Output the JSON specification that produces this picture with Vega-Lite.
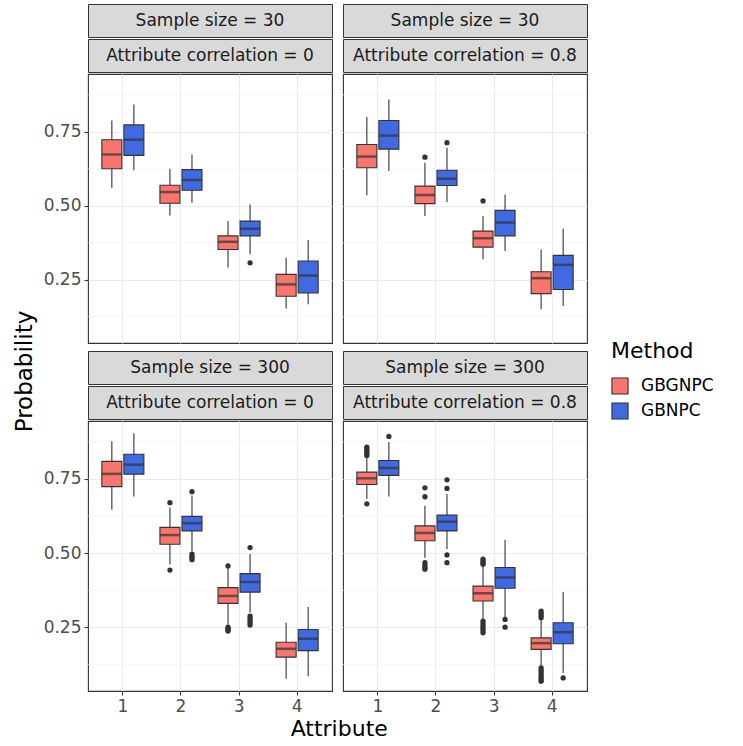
{
"$schema": "https://vega.github.io/schema/vega-lite/v6.json",
"background": "white",
"padding": {"left": 13, "top": 3, "right": 5, "bottom": 3},
"title": {"text": "Probability", "orient": "left", "anchor": "middle", "fontSize": 23, "font": "DejaVu Sans", "fontWeight": "normal", "color": "black", "offset": 6},
"datasets": {
"minor": [{"v": 0.125}, {"v": 0.375}, {"v": 0.625}, {"v": 0.875}],
"boxes": [
{"s":"30","c":"0","a":"1","m":"GBGNPC","lo":0.561,"q1":0.625,"md":0.673,"q3":0.723,"hi":0.788},
{"s":"30","c":"0","a":"1","m":"GBNPC","lo":0.620,"q1":0.670,"md":0.723,"q3":0.773,"hi":0.842},
{"s":"30","c":"0","a":"2","m":"GBGNPC","lo":0.467,"q1":0.508,"md":0.546,"q3":0.569,"hi":0.625},
{"s":"30","c":"0","a":"2","m":"GBNPC","lo":0.510,"q1":0.552,"md":0.587,"q3":0.622,"hi":0.673},
{"s":"30","c":"0","a":"3","m":"GBGNPC","lo":0.291,"q1":0.352,"md":0.378,"q3":0.398,"hi":0.448},
{"s":"30","c":"0","a":"3","m":"GBNPC","lo":0.336,"q1":0.398,"md":0.422,"q3":0.448,"hi":0.504},
{"s":"30","c":"0","a":"4","m":"GBGNPC","lo":0.153,"q1":0.194,"md":0.234,"q3":0.268,"hi":0.324},
{"s":"30","c":"0","a":"4","m":"GBNPC","lo":0.167,"q1":0.205,"md":0.264,"q3":0.313,"hi":0.384},
{"s":"30","c":"0.8","a":"1","m":"GBGNPC","lo":0.535,"q1":0.628,"md":0.666,"q3":0.707,"hi":0.800},
{"s":"30","c":"0.8","a":"1","m":"GBNPC","lo":0.617,"q1":0.691,"md":0.737,"q3":0.788,"hi":0.859},
{"s":"30","c":"0.8","a":"2","m":"GBGNPC","lo":0.465,"q1":0.507,"md":0.536,"q3":0.566,"hi":0.645},
{"s":"30","c":"0.8","a":"2","m":"GBNPC","lo":0.512,"q1":0.568,"md":0.591,"q3":0.620,"hi":0.696},
{"s":"30","c":"0.8","a":"3","m":"GBGNPC","lo":0.319,"q1":0.360,"md":0.390,"q3":0.414,"hi":0.465},
{"s":"30","c":"0.8","a":"3","m":"GBNPC","lo":0.347,"q1":0.398,"md":0.443,"q3":0.484,"hi":0.538},
{"s":"30","c":"0.8","a":"4","m":"GBGNPC","lo":0.150,"q1":0.203,"md":0.255,"q3":0.277,"hi":0.352},
{"s":"30","c":"0.8","a":"4","m":"GBNPC","lo":0.161,"q1":0.217,"md":0.300,"q3":0.332,"hi":0.422},
{"s":"300","c":"0","a":"1","m":"GBGNPC","lo":0.646,"q1":0.724,"md":0.767,"q3":0.809,"hi":0.877},
{"s":"300","c":"0","a":"1","m":"GBNPC","lo":0.691,"q1":0.766,"md":0.798,"q3":0.833,"hi":0.904},
{"s":"300","c":"0","a":"2","m":"GBGNPC","lo":0.463,"q1":0.530,"md":0.561,"q3":0.587,"hi":0.654},
{"s":"300","c":"0","a":"2","m":"GBNPC","lo":0.506,"q1":0.575,"md":0.601,"q3":0.624,"hi":0.694},
{"s":"300","c":"0","a":"3","m":"GBGNPC","lo":0.260,"q1":0.331,"md":0.356,"q3":0.384,"hi":0.452},
{"s":"300","c":"0","a":"3","m":"GBNPC","lo":0.300,"q1":0.369,"md":0.403,"q3":0.431,"hi":0.497},
{"s":"300","c":"0","a":"4","m":"GBGNPC","lo":0.077,"q1":0.150,"md":0.178,"q3":0.200,"hi":0.266},
{"s":"300","c":"0","a":"4","m":"GBNPC","lo":0.086,"q1":0.172,"md":0.212,"q3":0.243,"hi":0.319},
{"s":"300","c":"0.8","a":"1","m":"GBGNPC","lo":0.682,"q1":0.731,"md":0.752,"q3":0.773,"hi":0.823},
{"s":"300","c":"0.8","a":"1","m":"GBNPC","lo":0.691,"q1":0.762,"md":0.787,"q3":0.812,"hi":0.874},
{"s":"300","c":"0.8","a":"2","m":"GBGNPC","lo":0.485,"q1":0.542,"md":0.568,"q3":0.592,"hi":0.660},
{"s":"300","c":"0.8","a":"2","m":"GBNPC","lo":0.514,"q1":0.575,"md":0.606,"q3":0.628,"hi":0.699},
{"s":"300","c":"0.8","a":"3","m":"GBGNPC","lo":0.277,"q1":0.339,"md":0.365,"q3":0.389,"hi":0.457},
{"s":"300","c":"0.8","a":"3","m":"GBNPC","lo":0.283,"q1":0.382,"md":0.418,"q3":0.452,"hi":0.545},
{"s":"300","c":"0.8","a":"4","m":"GBGNPC","lo":0.119,"q1":0.176,"md":0.197,"q3":0.215,"hi":0.277},
{"s":"300","c":"0.8","a":"4","m":"GBNPC","lo":0.097,"q1":0.195,"md":0.234,"q3":0.266,"hi":0.369}
],
"outliers": [
{"s":"30","c":"0","a":"3","m":"GBNPC","v":0.307},
{"s":"30","c":"0.8","a":"2","m":"GBGNPC","v":0.664},
{"s":"30","c":"0.8","a":"2","m":"GBNPC","v":0.713},
{"s":"30","c":"0.8","a":"3","m":"GBGNPC","v":0.516},
{"s":"300","c":"0","a":"2","m":"GBGNPC","v":0.670},
{"s":"300","c":"0","a":"2","m":"GBGNPC","v":0.443},
{"s":"300","c":"0","a":"2","m":"GBNPC","v":0.707},
{"s":"300","c":"0","a":"2","m":"GBNPC","v":0.497},
{"s":"300","c":"0","a":"2","m":"GBNPC","v":0.490},
{"s":"300","c":"0","a":"2","m":"GBNPC","v":0.484},
{"s":"300","c":"0","a":"2","m":"GBNPC","v":0.478},
{"s":"300","c":"0","a":"3","m":"GBGNPC","v":0.457},
{"s":"300","c":"0","a":"3","m":"GBGNPC","v":0.251},
{"s":"300","c":"0","a":"3","m":"GBGNPC","v":0.246},
{"s":"300","c":"0","a":"3","m":"GBGNPC","v":0.242},
{"s":"300","c":"0","a":"3","m":"GBGNPC","v":0.238},
{"s":"300","c":"0","a":"3","m":"GBNPC","v":0.519},
{"s":"300","c":"0","a":"3","m":"GBNPC","v":0.288},
{"s":"300","c":"0","a":"3","m":"GBNPC","v":0.280},
{"s":"300","c":"0","a":"3","m":"GBNPC","v":0.272},
{"s":"300","c":"0","a":"3","m":"GBNPC","v":0.265},
{"s":"300","c":"0","a":"3","m":"GBNPC","v":0.258},
{"s":"300","c":"0.8","a":"1","m":"GBGNPC","v":0.857},
{"s":"300","c":"0.8","a":"1","m":"GBGNPC","v":0.850},
{"s":"300","c":"0.8","a":"1","m":"GBGNPC","v":0.843},
{"s":"300","c":"0.8","a":"1","m":"GBGNPC","v":0.836},
{"s":"300","c":"0.8","a":"1","m":"GBGNPC","v":0.829},
{"s":"300","c":"0.8","a":"1","m":"GBGNPC","v":0.666},
{"s":"300","c":"0.8","a":"1","m":"GBNPC","v":0.893},
{"s":"300","c":"0.8","a":"2","m":"GBGNPC","v":0.720},
{"s":"300","c":"0.8","a":"2","m":"GBGNPC","v":0.690},
{"s":"300","c":"0.8","a":"2","m":"GBGNPC","v":0.468},
{"s":"300","c":"0.8","a":"2","m":"GBGNPC","v":0.460},
{"s":"300","c":"0.8","a":"2","m":"GBGNPC","v":0.453},
{"s":"300","c":"0.8","a":"2","m":"GBGNPC","v":0.446},
{"s":"300","c":"0.8","a":"2","m":"GBNPC","v":0.747},
{"s":"300","c":"0.8","a":"2","m":"GBNPC","v":0.718},
{"s":"300","c":"0.8","a":"2","m":"GBNPC","v":0.494},
{"s":"300","c":"0.8","a":"2","m":"GBNPC","v":0.468},
{"s":"300","c":"0.8","a":"3","m":"GBGNPC","v":0.480},
{"s":"300","c":"0.8","a":"3","m":"GBGNPC","v":0.474},
{"s":"300","c":"0.8","a":"3","m":"GBGNPC","v":0.468},
{"s":"300","c":"0.8","a":"3","m":"GBGNPC","v":0.463},
{"s":"300","c":"0.8","a":"3","m":"GBGNPC","v":0.271},
{"s":"300","c":"0.8","a":"3","m":"GBGNPC","v":0.262},
{"s":"300","c":"0.8","a":"3","m":"GBGNPC","v":0.254},
{"s":"300","c":"0.8","a":"3","m":"GBGNPC","v":0.246},
{"s":"300","c":"0.8","a":"3","m":"GBGNPC","v":0.239},
{"s":"300","c":"0.8","a":"3","m":"GBGNPC","v":0.232},
{"s":"300","c":"0.8","a":"3","m":"GBNPC","v":0.277},
{"s":"300","c":"0.8","a":"3","m":"GBNPC","v":0.251},
{"s":"300","c":"0.8","a":"4","m":"GBGNPC","v":0.305},
{"s":"300","c":"0.8","a":"4","m":"GBGNPC","v":0.298},
{"s":"300","c":"0.8","a":"4","m":"GBGNPC","v":0.290},
{"s":"300","c":"0.8","a":"4","m":"GBGNPC","v":0.283},
{"s":"300","c":"0.8","a":"4","m":"GBGNPC","v":0.114},
{"s":"300","c":"0.8","a":"4","m":"GBGNPC","v":0.106},
{"s":"300","c":"0.8","a":"4","m":"GBGNPC","v":0.098},
{"s":"300","c":"0.8","a":"4","m":"GBGNPC","v":0.090},
{"s":"300","c":"0.8","a":"4","m":"GBGNPC","v":0.082},
{"s":"300","c":"0.8","a":"4","m":"GBGNPC","v":0.075},
{"s":"300","c":"0.8","a":"4","m":"GBGNPC","v":0.069},
{"s":"300","c":"0.8","a":"4","m":"GBNPC","v":0.080}
]
},
"hconcat": [
{
"title": {"text": "Attribute", "orient": "bottom", "anchor": "middle", "fontSize": 22, "font": "DejaVu Sans", "fontWeight": "normal", "color": "black", "offset": 4, "dx": 24},
"columns": 2,
"spacing": {"row": 6, "column": 9},
"concat": [
{"spacing": 0, "vconcat": [
 {"width": 244, "height": 33, "data": {"values": [{"t": "Sample size = 30"}]}, "mark": {"type": "text", "fontSize": 17, "color": "#1A1A1A"}, "encoding": {"text": {"field": "t"}}, "view": {"fill": "#D9D9D9", "stroke": "#333333"}},
 {"width": 244, "height": 33, "data": {"values": [{"t": "Attribute correlation = 0"}]}, "mark": {"type": "text", "fontSize": 17, "color": "#1A1A1A"}, "encoding": {"text": {"field": "t"}}, "view": {"fill": "#D9D9D9", "stroke": "#333333"}},
 {"width": 244, "height": 269, "layer": [
  {"data": {"name": "minor"}, "mark": {"type": "rule", "color": "#F2F2F2", "strokeWidth": 0.6}, "encoding": {"y": {"field": "v", "type": "quantitative", "scale": {"domain": [0.036, 0.945], "nice": false, "zero": false}, "axis": {"values": [0.25, 0.5, 0.75], "format": ".2f", "title": null}}}},
  {"data": {"name": "boxes"}, "transform": [{"filter": "datum.s=='30' && datum.c=='0'"}],
   "layer": [
    {"mark": {"type": "rule", "color": "#333333", "strokeWidth": 1.1}, "encoding": {"y": {"field": "lo", "type": "quantitative"}, "y2": {"field": "hi"}}},
    {"mark": {"type": "bar", "width": 20, "stroke": "#333333", "strokeWidth": 1.1}, "encoding": {"y": {"field": "q1", "type": "quantitative"}, "y2": {"field": "q3"}, "fill": {"field": "m", "type": "nominal", "scale": {"domain": ["GBGNPC", "GBNPC"], "range": ["#F8766D", "#4169E1"]}, "legend": {"title": "Method"}}}},
    {"mark": {"type": "tick", "color": "#333333", "size": 20, "thickness": 2.5}, "encoding": {"y": {"field": "md", "type": "quantitative"}}}
   ],
   "encoding": {"x": {"field": "a", "type": "nominal", "scale": {"domain": ["1", "2", "3", "4"], "paddingInner": 0, "paddingOuter": 0.1}, "axis": {"labels": false, "ticks": false, "title": null, "grid": true, "bandPosition": 0.5}}, "xOffset": {"field": "m", "type": "nominal", "scale": {"domain": ["GBGNPC", "GBNPC"], "paddingInner": 0, "paddingOuter": 0.318}}}},
  {"data": {"name": "outliers"}, "transform": [{"filter": "datum.s=='30' && datum.c=='0'"}], "mark": {"type": "circle", "color": "#333333", "opacity": 1, "size": 28}, "encoding": {"x": {"field": "a", "type": "nominal"}, "xOffset": {"field": "m", "type": "nominal"}, "y": {"field": "v", "type": "quantitative"}}}
 ]}
]},
{"spacing": 0, "vconcat": [
 {"width": 244, "height": 33, "data": {"values": [{"t": "Sample size = 30"}]}, "mark": {"type": "text", "fontSize": 17, "color": "#1A1A1A"}, "encoding": {"text": {"field": "t"}}, "view": {"fill": "#D9D9D9", "stroke": "#333333"}},
 {"width": 244, "height": 33, "data": {"values": [{"t": "Attribute correlation = 0.8"}]}, "mark": {"type": "text", "fontSize": 17, "color": "#1A1A1A"}, "encoding": {"text": {"field": "t"}}, "view": {"fill": "#D9D9D9", "stroke": "#333333"}},
 {"width": 244, "height": 269, "layer": [
  {"data": {"name": "minor"}, "mark": {"type": "rule", "color": "#F2F2F2", "strokeWidth": 0.6}, "encoding": {"y": {"field": "v", "type": "quantitative", "scale": {"domain": [0.036, 0.945], "nice": false, "zero": false}, "axis": {"values": [0.25, 0.5, 0.75], "labels": false, "ticks": false, "title": null}}}},
  {"data": {"name": "boxes"}, "transform": [{"filter": "datum.s=='30' && datum.c=='0.8'"}],
   "layer": [
    {"mark": {"type": "rule", "color": "#333333", "strokeWidth": 1.1}, "encoding": {"y": {"field": "lo", "type": "quantitative"}, "y2": {"field": "hi"}}},
    {"mark": {"type": "bar", "width": 20, "stroke": "#333333", "strokeWidth": 1.1}, "encoding": {"y": {"field": "q1", "type": "quantitative"}, "y2": {"field": "q3"}, "fill": {"field": "m", "type": "nominal", "scale": {"domain": ["GBGNPC", "GBNPC"], "range": ["#F8766D", "#4169E1"]}, "legend": {"title": "Method"}}}},
    {"mark": {"type": "tick", "color": "#333333", "size": 20, "thickness": 2.5}, "encoding": {"y": {"field": "md", "type": "quantitative"}}}
   ],
   "encoding": {"x": {"field": "a", "type": "nominal", "scale": {"domain": ["1", "2", "3", "4"], "paddingInner": 0, "paddingOuter": 0.1}, "axis": {"labels": false, "ticks": false, "title": null, "grid": true, "bandPosition": 0.5}}, "xOffset": {"field": "m", "type": "nominal", "scale": {"domain": ["GBGNPC", "GBNPC"], "paddingInner": 0, "paddingOuter": 0.318}}}},
  {"data": {"name": "outliers"}, "transform": [{"filter": "datum.s=='30' && datum.c=='0.8'"}], "mark": {"type": "circle", "color": "#333333", "opacity": 1, "size": 28}, "encoding": {"x": {"field": "a", "type": "nominal"}, "xOffset": {"field": "m", "type": "nominal"}, "y": {"field": "v", "type": "quantitative"}}}
 ]}
]},
{"spacing": 0, "vconcat": [
 {"width": 244, "height": 33, "data": {"values": [{"t": "Sample size = 300"}]}, "mark": {"type": "text", "fontSize": 17, "color": "#1A1A1A"}, "encoding": {"text": {"field": "t"}}, "view": {"fill": "#D9D9D9", "stroke": "#333333"}},
 {"width": 244, "height": 33, "data": {"values": [{"t": "Attribute correlation = 0"}]}, "mark": {"type": "text", "fontSize": 17, "color": "#1A1A1A"}, "encoding": {"text": {"field": "t"}}, "view": {"fill": "#D9D9D9", "stroke": "#333333"}},
 {"width": 244, "height": 270, "layer": [
  {"data": {"name": "minor"}, "mark": {"type": "rule", "color": "#F2F2F2", "strokeWidth": 0.6}, "encoding": {"y": {"field": "v", "type": "quantitative", "scale": {"domain": [0.036, 0.945], "nice": false, "zero": false}, "axis": {"values": [0.25, 0.5, 0.75], "format": ".2f", "title": null}}}},
  {"data": {"name": "boxes"}, "transform": [{"filter": "datum.s=='300' && datum.c=='0'"}],
   "layer": [
    {"mark": {"type": "rule", "color": "#333333", "strokeWidth": 1.1}, "encoding": {"y": {"field": "lo", "type": "quantitative"}, "y2": {"field": "hi"}}},
    {"mark": {"type": "bar", "width": 20, "stroke": "#333333", "strokeWidth": 1.1}, "encoding": {"y": {"field": "q1", "type": "quantitative"}, "y2": {"field": "q3"}, "fill": {"field": "m", "type": "nominal", "scale": {"domain": ["GBGNPC", "GBNPC"], "range": ["#F8766D", "#4169E1"]}, "legend": {"title": "Method"}}}},
    {"mark": {"type": "tick", "color": "#333333", "size": 20, "thickness": 2.5}, "encoding": {"y": {"field": "md", "type": "quantitative"}}}
   ],
   "encoding": {"x": {"field": "a", "type": "nominal", "scale": {"domain": ["1", "2", "3", "4"], "paddingInner": 0, "paddingOuter": 0.1}, "axis": {"labelAngle": 0, "title": null, "grid": true, "bandPosition": 0.5}}, "xOffset": {"field": "m", "type": "nominal", "scale": {"domain": ["GBGNPC", "GBNPC"], "paddingInner": 0, "paddingOuter": 0.318}}}},
  {"data": {"name": "outliers"}, "transform": [{"filter": "datum.s=='300' && datum.c=='0'"}], "mark": {"type": "circle", "color": "#333333", "opacity": 1, "size": 28}, "encoding": {"x": {"field": "a", "type": "nominal"}, "xOffset": {"field": "m", "type": "nominal"}, "y": {"field": "v", "type": "quantitative"}}}
 ]}
]},
{"spacing": 0, "vconcat": [
 {"width": 244, "height": 33, "data": {"values": [{"t": "Sample size = 300"}]}, "mark": {"type": "text", "fontSize": 17, "color": "#1A1A1A"}, "encoding": {"text": {"field": "t"}}, "view": {"fill": "#D9D9D9", "stroke": "#333333"}},
 {"width": 244, "height": 33, "data": {"values": [{"t": "Attribute correlation = 0.8"}]}, "mark": {"type": "text", "fontSize": 17, "color": "#1A1A1A"}, "encoding": {"text": {"field": "t"}}, "view": {"fill": "#D9D9D9", "stroke": "#333333"}},
 {"width": 244, "height": 270, "layer": [
  {"data": {"name": "minor"}, "mark": {"type": "rule", "color": "#F2F2F2", "strokeWidth": 0.6}, "encoding": {"y": {"field": "v", "type": "quantitative", "scale": {"domain": [0.036, 0.945], "nice": false, "zero": false}, "axis": {"values": [0.25, 0.5, 0.75], "labels": false, "ticks": false, "title": null}}}},
  {"data": {"name": "boxes"}, "transform": [{"filter": "datum.s=='300' && datum.c=='0.8'"}],
   "layer": [
    {"mark": {"type": "rule", "color": "#333333", "strokeWidth": 1.1}, "encoding": {"y": {"field": "lo", "type": "quantitative"}, "y2": {"field": "hi"}}},
    {"mark": {"type": "bar", "width": 20, "stroke": "#333333", "strokeWidth": 1.1}, "encoding": {"y": {"field": "q1", "type": "quantitative"}, "y2": {"field": "q3"}, "fill": {"field": "m", "type": "nominal", "scale": {"domain": ["GBGNPC", "GBNPC"], "range": ["#F8766D", "#4169E1"]}, "legend": {"title": "Method"}}}},
    {"mark": {"type": "tick", "color": "#333333", "size": 20, "thickness": 2.5}, "encoding": {"y": {"field": "md", "type": "quantitative"}}}
   ],
   "encoding": {"x": {"field": "a", "type": "nominal", "scale": {"domain": ["1", "2", "3", "4"], "paddingInner": 0, "paddingOuter": 0.1}, "axis": {"labelAngle": 0, "title": null, "grid": true, "bandPosition": 0.5}}, "xOffset": {"field": "m", "type": "nominal", "scale": {"domain": ["GBGNPC", "GBNPC"], "paddingInner": 0, "paddingOuter": 0.318}}}},
  {"data": {"name": "outliers"}, "transform": [{"filter": "datum.s=='300' && datum.c=='0.8'"}], "mark": {"type": "circle", "color": "#333333", "opacity": 1, "size": 28}, "encoding": {"x": {"field": "a", "type": "nominal"}, "xOffset": {"field": "m", "type": "nominal"}, "y": {"field": "v", "type": "quantitative"}}}
 ]}
]}
]
}
],
"resolve": {"scale": {"fill": "shared"}, "legend": {"fill": "shared"}},
"config": {
 "font": "DejaVu Sans",
 "view": {"stroke": "#333333", "strokeWidth": 1.1},
 "axis": {"gridColor": "#EBEBEB", "gridWidth": 1.1, "domain": false, "tickColor": "#333333", "tickSize": 4, "tickWidth": 1.1, "labelColor": "#4D4D4D", "labelFontSize": 17, "labelFont": "DejaVu Sans", "labelPadding": 3},
 "legend": {"orient": "none", "legendX": 523, "legendY": 337, "titleFontSize": 22, "titleFont": "DejaVu Sans", "titleFontWeight": "normal", "titleColor": "black", "titlePadding": 14, "labelFontSize": 17, "labelFont": "DejaVu Sans", "labelColor": "black", "symbolType": "square", "symbolSize": 260, "symbolStrokeColor": "#333333", "symbolStrokeWidth": 1.1, "rowPadding": 3, "labelOffset": 12}
}
}
